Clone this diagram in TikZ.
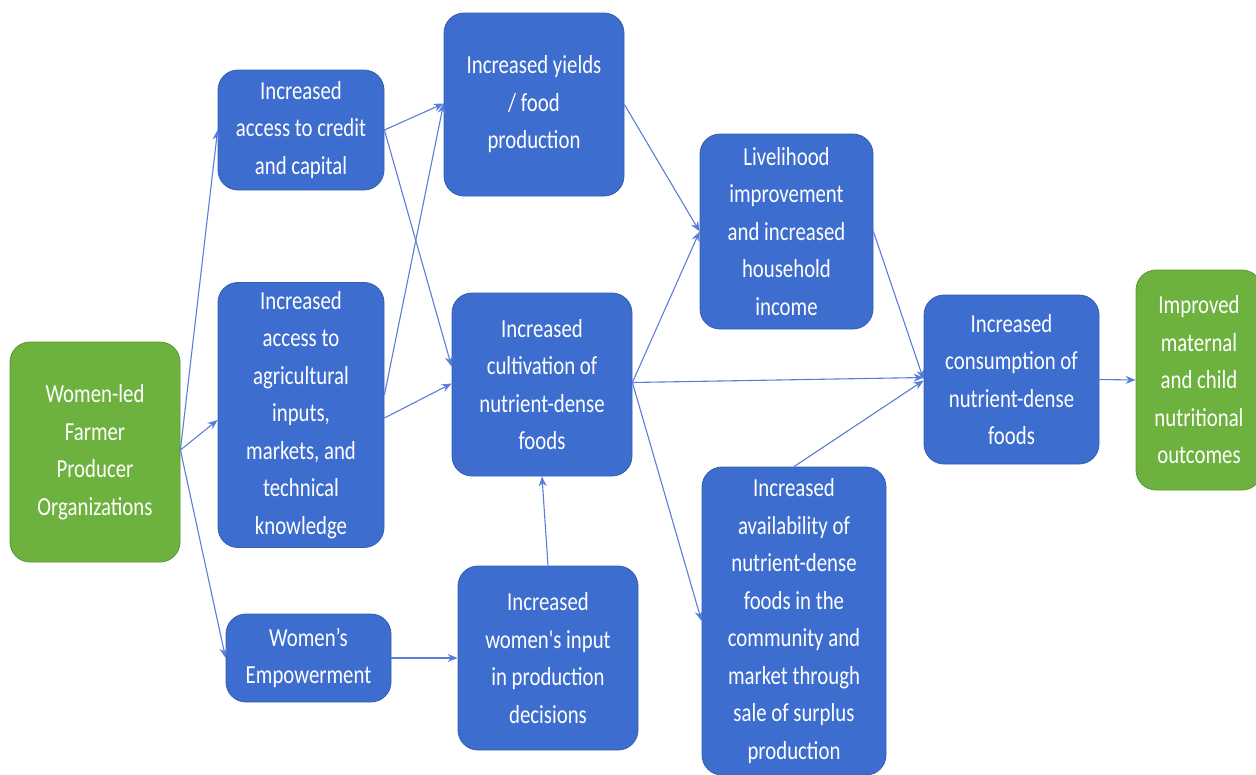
\documentclass[tikz,border=0pt]{standalone}
\usepackage{fontspec}
\setmainfont[FakeStretch=0.8]{Carlito}
\newfontfamily\plainfont[FakeStretch=0.8,Ligatures=ResetAll]{Carlito}
\usetikzlibrary{arrows.meta,calc}
\definecolor{boxblue}{HTML}{3D6DCF}
\definecolor{boxgreen}{HTML}{6DB13F}
\definecolor{arrowblue}{HTML}{5A7ED8}
\tikzset{
  box/.style={draw=boxblue!85!black, line width=0.8pt, fill=boxblue, rounded corners=20pt, text=white, align=center, inner sep=0pt,
    font=\fontsize{26}{37.5}\selectfont},
  gbox/.style={box, draw=boxgreen!85!black, fill=boxgreen},
  conn/.style={draw=arrowblue, line width=1.1pt, -{Stealth[length=10pt,width=8pt]}}
}
\begin{document}
\begin{tikzpicture}[x=1pt,y=-1pt]
\useasboundingbox (0,0) rectangle (1256,774);
\node[gbox, minimum width=170pt, minimum height=220pt] (fpo) at (95,452) {Women-led\\Farmer\\Producer\\Organizations};
\node[box, minimum width=166pt, minimum height=120pt] (credit) at (301,130) {Increased\\access to credit\\and capital};
\node[box, minimum width=166pt, minimum height=265pt] (agri) at (301,415) {Increased\\access to\\agricultural\\inputs,\\markets, and\\technical\\knowledge};
\node[box, minimum width=165pt, minimum height=88pt] (emp) at (308.5,658) {Women’s\\Empowerment};
\node[box, minimum width=180pt, minimum height=183pt] (yields) at (534,104.5) {Increased yields\\/ food\\production};
\node[box, minimum width=180pt, minimum height=183pt] (cult) at (542,384.5) {Increased\\cultivation of\\nutrient-dense\\foods};
\node[box, minimum width=180pt, minimum height=184pt] (input) at (548,658) {Increased\\{\plainfont women's input}\\in production\\decisions};
\node[box, minimum width=173pt, minimum height=195pt] (live) at (786.5,231.5) {Livelihood\\improvement\\and increased\\household\\income};
\node[box, minimum width=184pt, minimum height=308pt] (avail) at (794,621) {Increased\\availability of\\nutrient-dense\\foods in the\\community and\\market through\\sale of surplus\\production};
\node[box, minimum width=175pt, minimum height=169pt] (cons) at (1011.5,379.5) {Increased\\consumption of\\nutrient-dense\\foods};
\node[gbox, minimum width=126pt, minimum height=220pt] (impr) at (1199,380) {Improved\\maternal\\and child\\nutritional\\outcomes};

\coordinate (fpoOut) at ($(fpo.east)+(0,-2)$);
\draw[conn] (fpoOut) -- (credit.west);
\draw[conn] (fpoOut) -- ($(agri.west)+(0,5)$);
\draw[conn] (fpoOut) -- (emp.west);
\draw[conn] (credit.east) -- ($(yields.west)+(0,-1)$);
\draw[conn] (credit.east) -- ($(cult.west)+(0,-18)$);
\draw[conn] ($(agri.east)+(0,-20)$) -- ($(yields.west)+(0,-1)$);
\draw[conn] ($(agri.east)+(0,3)$) -- ($(cult.west)+(0,-1)$);
\draw[conn] (emp.east) -- (input.west);
\draw[conn] (input.north) -- (cult.south);
\draw[conn] (yields.east) -- (live.west);
\coordinate (cultOut) at ($(cult.east)+(0,-2)$);
\draw[conn] (cultOut) -- (live.west);
\draw[conn] (cultOut) -- ($(cons.west)+(0,-2)$);
\draw[conn] (cultOut) -- (avail.west);
\draw[conn] (live.east) -- (cons.west);
\draw[conn] (avail.north) -- ($(cons.west)+(0,1)$);
\draw[conn] (cons.east) -- (impr.west);
\end{tikzpicture}
\end{document}
